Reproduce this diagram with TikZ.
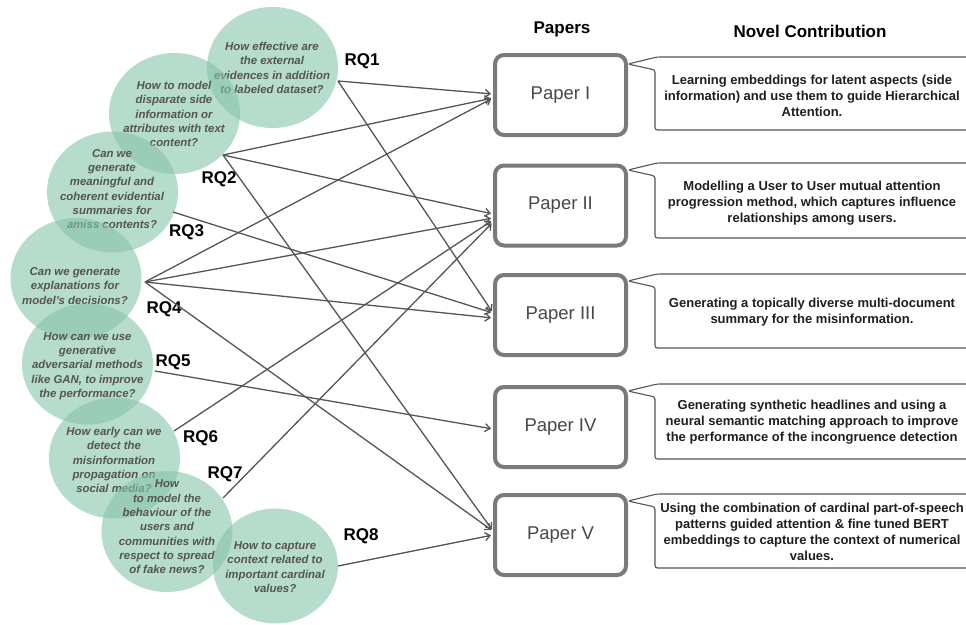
\documentclass[tikz,border=0pt]{standalone}
\usepackage{fontspec}
\setmainfont{Liberation Sans}
\usetikzlibrary{arrows.meta,shapes.geometric}

\definecolor{qfill}{RGB}{134,196,170}
\definecolor{qtext}{RGB}{84,84,84}
\definecolor{edge}{RGB}{85,85,85}
\definecolor{boxline}{RGB}{122,122,122}
\definecolor{ptext}{RGB}{72,72,72}

% speech-bubble outline for a contribution box: top y, bottom y
\newcommand\contribbox[2]{%
  \draw[callout] (655,#2) -- (655,{#1+13}) -- (628,{#1+7}) -- (657,#1)
    -- (990,#1) -- (990,#2) -- cycle;}

\begin{document}
\begin{tikzpicture}[x=1pt,y=-1pt,
  qcirc/.style={ellipse, fill=qfill, fill opacity=0.6, inner sep=0pt,
    minimum width=131pt, minimum height=121pt},
  qtxt/.style={align=center, text=qtext, inner sep=0pt,
    font=\fontsize{11.4}{14.3}\selectfont\bfseries\itshape},
  rq/.style={anchor=base, inner sep=0pt, font=\fontsize{17}{20}\selectfont\bfseries},
  head/.style={anchor=base, inner sep=0pt, font=\fontsize{17}{20}\selectfont\bfseries},
  paper/.style={draw=boxline, line width=4pt, rounded corners=9pt, fill=white,
    minimum width=131pt, minimum height=80pt, text=ptext,
    font=\fontsize{18.5}{22}\selectfont},
  callout/.style={draw=edge, line width=1.1pt, fill=white, rounded corners=2.5pt},
  ctxt/.style={align=center, inner sep=0pt, text=black!88,
    font=\fontsize{13}{16}\selectfont\bfseries},
  link/.style={draw=edge, line width=1.3pt, shorten >=2pt,
    -{Straight Barb[length=5pt,width=8pt]}}
]
\useasboundingbox (0,0) rectangle (966,624);
\clip (0,0) rectangle (966,624);

% research questions
\node[qcirc] (c1) at (272.5,67.5) {};
\node[qtxt] (t1) at (272,68) {How effective are\\the external\\evidences in addition\\to labeled dataset?};
\node[qcirc] (c2) at (174.5,113.5) {};
\node[qtxt] (t2) at (174,114) {How to model\\disparate side\\information or\\attributes with text\\content?};
\node[qcirc] (c3) at (112.5,192) {};
\node[qtxt] (t3) at (112,189) {Can we\\generate\\meaningful and\\coherent evidential\\summaries for\\amiss contents?};
\node[qcirc] (c4) at (76,278.5) {};
\node[qtxt] (t4) at (75,286) {Can we generate\\explanations for\\model's decisions?};
\node[qcirc] (c5) at (87.5,364) {};
\node[qtxt] (t5) at (87.5,366) {How can we use\\generative\\adversarial methods\\like GAN, to improve\\the performance?};
\node[qcirc] (c6) at (114.5,458) {};
\node[qtxt] (t6) at (114,460) {How early can we\\detect the\\misinformation\\propagation on\\social media?};
\node[qcirc] (c7) at (167,531.5) {};
\node[qtxt] (t7) at (167,527) {How\\to model the\\behaviour of the\\users and\\communities with\\respect to spread\\of fake news?};
\node[qcirc, minimum width=125pt, minimum height=115pt] (c8) at (275.5,566) {};
\node[qtxt] (t8) at (275,567) {How to capture\\context related to\\important cardinal\\values?};

\node[rq] (r1) at (362,65) {RQ1};
\node[rq] (r2) at (219,183) {RQ2};
\node[rq] (r3) at (186.5,236) {RQ3};
\node[rq] (r4) at (164,313) {RQ4};
\node[rq] (r5) at (173,366) {RQ5};
\node[rq] (r6) at (200.5,442) {RQ6};
\node[rq] (r7) at (225,478) {RQ7};
\node[rq] (r8) at (361,540) {RQ8};

% where the links leave each question
\coordinate (o1) at (338,81);
\coordinate (o2) at (223,155);
\coordinate (o3) at (173,212);
\coordinate (o4) at (145,282);
\coordinate (o5) at (155,371);
\coordinate (o6) at (174,431);
\coordinate (o7) at (223,498);
\coordinate (o8) at (338,566);

% headers
\node[head] (hp) at (562,33) {Papers};
\node[head] (hn) at (810,37) {Novel Contribution};

% contribution bubbles
\contribbox{57}{130}
\contribbox{163}{238}
\contribbox{274}{348}
\contribbox{384}{459}
\contribbox{494}{568}

\node[ctxt] (n1) at (812,96) {Learning embeddings for latent aspects (side\\information) and use them to guide Hierarchical\\Attention.};
\node[ctxt] (n2) at (812,203) {Modelling a User to User mutual attention\\progression method, which captures influence\\relationships among users.};
\node[ctxt] (n3) at (812,312) {Generating a topically diverse multi-document\\summary for the misinformation.};
\node[ctxt] (n4) at (812,422) {Generating synthetic headlines and using a\\neural semantic matching approach to improve\\the performance of the incongruence detection};
\node[ctxt] (n5) at (812,532) {Using the combination of cardinal part-of-speech\\patterns guided attention \& fine tuned BERT\\embeddings to capture the context of numerical\\values.};

% papers
\node[paper] (pI) at (560.5,95) {Paper I};
\node[paper] (pII) at (560.5,205.5) {Paper II};
\node[paper] (pIII) at (560.5,315) {Paper III};
\node[paper] (pIV) at (560.5,427) {Paper IV};
\node[paper] (pV) at (560.5,535) {Paper V};

% question -> paper links
\draw[link] (o1) -- ([yshift=1pt]pI.west);
\draw[link] (o1) -- ([yshift=2pt]pIII.west);
\draw[link] (o2) -- ([yshift=-3pt]pI.west);
\draw[link] (o2) -- ([yshift=-8.5pt]pII.west);
\draw[link] (o2) -- ([yshift=4pt]pV.west);
\draw[link] (o3) -- ([yshift=2pt]pIII.west);
\draw[link] (o4) -- ([yshift=-3pt]pI.west);
\draw[link] (o4) -- ([yshift=-12.5pt]pII.west);
\draw[link] (o4) -- ([yshift=-3pt]pIII.west);
\draw[link] (o4) -- ([yshift=4pt]pV.west);
\draw[link] (o5) -- ([yshift=-2pt]pIV.west);
\draw[link] (o6) -- ([yshift=-14.5pt]pII.west);
\draw[link] (o7) -- ([yshift=-16.5pt]pII.west);
\draw[link] (o8) -- (pV.west);
\end{tikzpicture}
\end{document}
